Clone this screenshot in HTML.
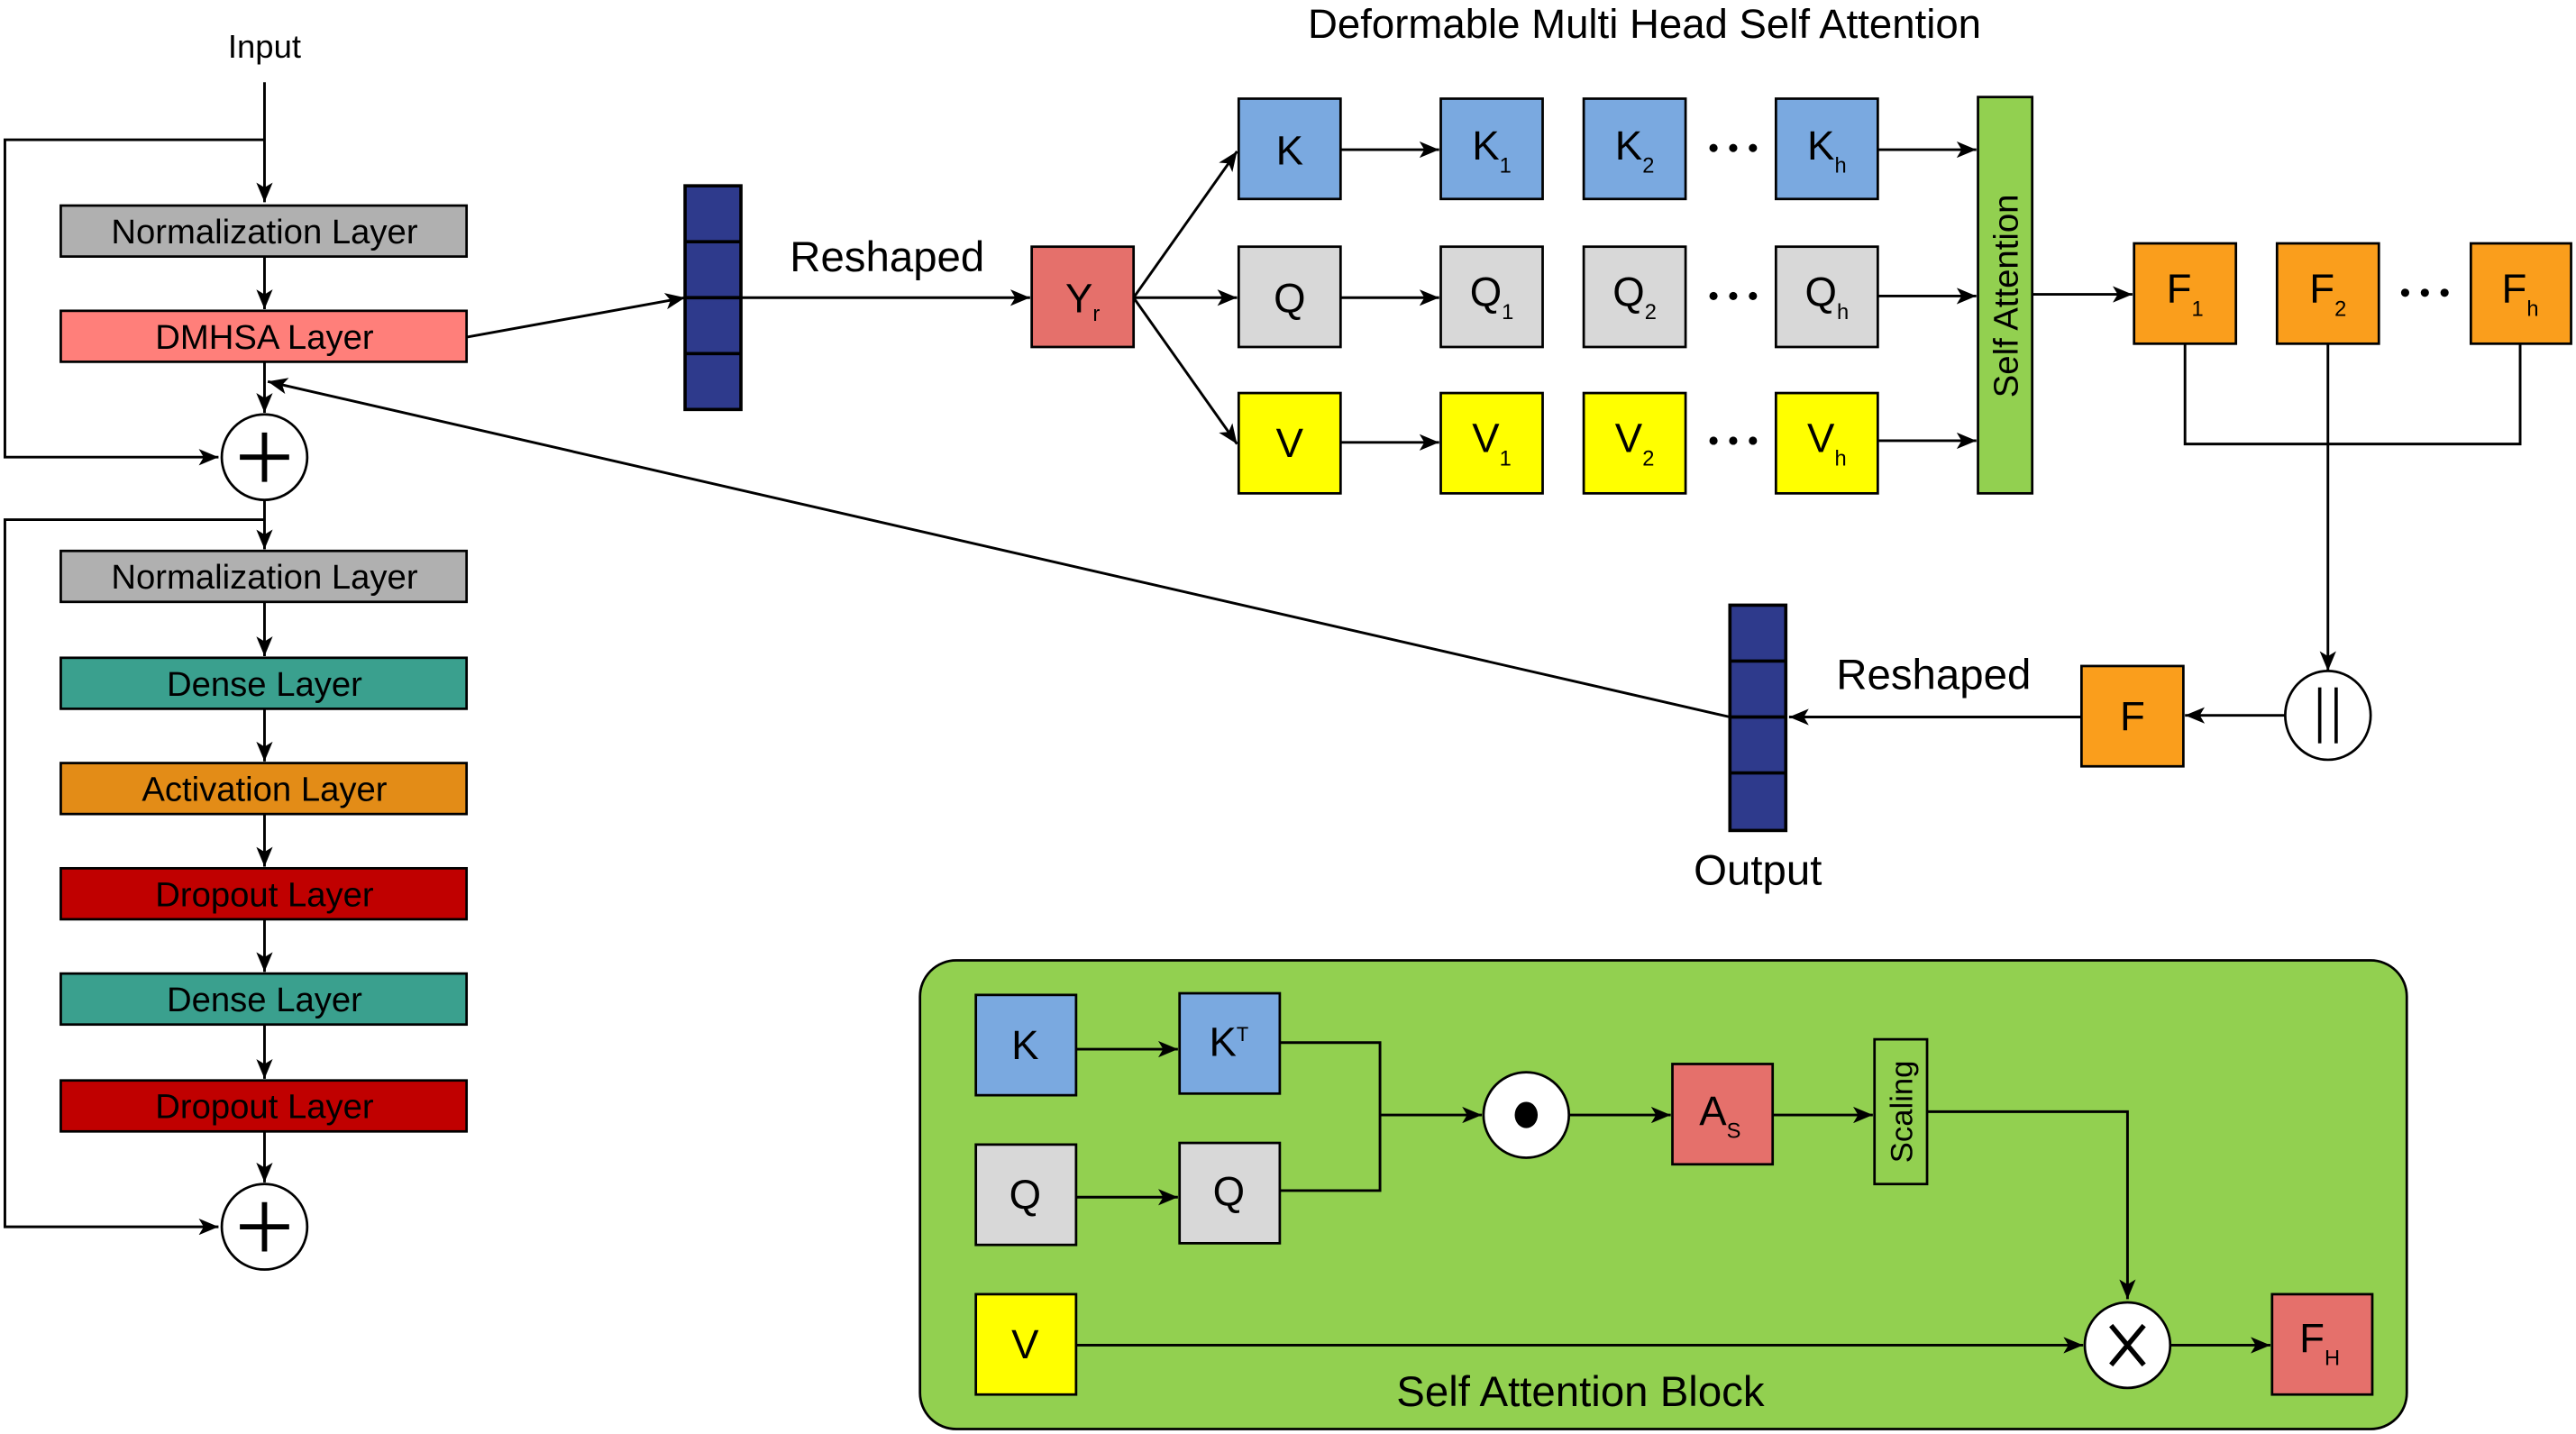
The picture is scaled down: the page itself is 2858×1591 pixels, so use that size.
<!DOCTYPE html>
<html><head><meta charset="utf-8"><style>
html,body{margin:0;padding:0;background:#fff;}
svg{display:block;}
text{font-family:"Liberation Sans",sans-serif;fill:#000;}
</style></head><body>
<svg width="2858" height="1591" viewBox="0 0 1568 872" preserveAspectRatio="none" xmlns="http://www.w3.org/2000/svg">
<defs>
<marker id="a" viewBox="0 0 12 10" refX="12" refY="5" markerWidth="12" markerHeight="10" markerUnits="userSpaceOnUse" orient="auto">
<path d="M0,0 L12,5 L0,10 L3,5 Z" fill="#000"/></marker>
</defs>
<g stroke="#000" stroke-width="1.6" fill="none">
<line x1="161" y1="50" x2="161" y2="123" marker-end="url(#a)"/>
<polyline points="161,85 3,85 3,278 133,278" marker-end="url(#a)"/>
<line x1="161" y1="156" x2="161" y2="188" marker-end="url(#a)"/>
<line x1="161" y1="220" x2="161" y2="251" marker-end="url(#a)"/>
<line x1="161" y1="304" x2="161" y2="334" marker-end="url(#a)"/>
<polyline points="161,316 3,316 3,746 133,746" marker-end="url(#a)"/>
<line x1="161" y1="366" x2="161" y2="399" marker-end="url(#a)"/>
<line x1="161" y1="431" x2="161" y2="463" marker-end="url(#a)"/>
<line x1="161" y1="495" x2="161" y2="527" marker-end="url(#a)"/>
<line x1="161" y1="559" x2="161" y2="591" marker-end="url(#a)"/>
<line x1="161" y1="623" x2="161" y2="656" marker-end="url(#a)"/>
<line x1="161" y1="688" x2="161" y2="719" marker-end="url(#a)"/>
<line x1="284" y1="205" x2="417" y2="181" marker-end="url(#a)"/>
<line x1="451" y1="181" x2="627" y2="181" marker-end="url(#a)"/>
<line x1="690" y1="181" x2="753" y2="92" marker-end="url(#a)"/>
<line x1="690" y1="181" x2="753" y2="181" marker-end="url(#a)"/>
<line x1="690" y1="181" x2="753" y2="270" marker-end="url(#a)"/>
<line x1="816" y1="91" x2="876" y2="91" marker-end="url(#a)"/>
<line x1="816" y1="181" x2="876" y2="181" marker-end="url(#a)"/>
<line x1="816" y1="269" x2="876" y2="269" marker-end="url(#a)"/>
<line x1="1143" y1="91" x2="1203" y2="91" marker-end="url(#a)"/>
<line x1="1143" y1="180" x2="1203" y2="180" marker-end="url(#a)"/>
<line x1="1143" y1="268" x2="1203" y2="268" marker-end="url(#a)"/>
<line x1="1237" y1="179" x2="1298" y2="179" marker-end="url(#a)"/>
<polyline points="1330,209 1330,270 1534,270 1534,209"/>
<line x1="1417" y1="209" x2="1417" y2="408" marker-end="url(#a)"/>
<line x1="1391" y1="435" x2="1330" y2="435" marker-end="url(#a)"/>
<line x1="1267" y1="436" x2="1089" y2="436" marker-end="url(#a)"/>
<line x1="1053" y1="436" x2="163" y2="232" marker-end="url(#a)"/>
</g>
<g stroke="#000" stroke-width="1.5">
<rect x="37" y="125" width="247" height="31" fill="#b0b0b0"/>
<rect x="37" y="189" width="247" height="31" fill="#ff7f7a"/>
<rect x="37" y="335" width="247" height="31" fill="#b0b0b0"/>
<rect x="37" y="400" width="247" height="31" fill="#3aa08e"/>
<rect x="37" y="464" width="247" height="31" fill="#e38c17"/>
<rect x="37" y="528" width="247" height="31" fill="#c00000"/>
<rect x="37" y="592" width="247" height="31" fill="#3aa08e"/>
<rect x="37" y="657" width="247" height="31" fill="#c00000"/>
<ellipse cx="161" cy="278" rx="26" ry="26" fill="#fff"/>
<ellipse cx="161" cy="746" rx="26" ry="26" fill="#fff"/>
</g>
<g stroke="#000" stroke-width="3.2">
<line x1="146" y1="278" x2="176" y2="278"/><line x1="161" y1="263" x2="161" y2="293"/>
<line x1="146" y1="746" x2="176" y2="746"/><line x1="161" y1="731" x2="161" y2="761"/>
</g>
<g font-size="21" text-anchor="middle">
<text x="161" y="35" font-size="20">Input</text>
<text x="161" y="148">Normalization Layer</text>
<text x="161" y="212">DMHSA Layer</text>
<text x="161" y="358">Normalization Layer</text>
<text x="161" y="423">Dense Layer</text>
<text x="161" y="487">Activation Layer</text>
<text x="161" y="551">Dropout Layer</text>
<text x="161" y="615">Dense Layer</text>
<text x="161" y="680">Dropout Layer</text>
</g>
<g stroke="#000" stroke-width="2" fill="#2e3a8c">
<rect x="417" y="113" width="34" height="136"/>
<line x1="417" y1="147" x2="451" y2="147"/><line x1="417" y1="181" x2="451" y2="181"/><line x1="417" y1="215" x2="451" y2="215"/>
<rect x="1053" y="368" width="34" height="137"/>
<line x1="1053" y1="402" x2="1087" y2="402"/><line x1="1053" y1="436" x2="1087" y2="436"/><line x1="1053" y1="470" x2="1087" y2="470"/>
</g>
<g font-size="26" text-anchor="middle">
<text x="540" y="165">Reshaped</text>
<text x="1177" y="419">Reshaped</text>
<text x="1070" y="538">Output</text>
<text x="1001" y="23" font-size="25">Deformable Multi Head Self Attention</text>
</g>
<g stroke="#000" stroke-width="1.5">
<rect x="628" y="150" width="62" height="61" fill="#e5706b"/>
<rect x="754" y="60" width="62" height="61" fill="#7aa9e0"/>
<rect x="877" y="60" width="62" height="61" fill="#7aa9e0"/>
<rect x="964" y="60" width="62" height="61" fill="#7aa9e0"/>
<rect x="1081" y="60" width="62" height="61" fill="#7aa9e0"/>
<rect x="754" y="150" width="62" height="61" fill="#d8d8d8"/>
<rect x="877" y="150" width="62" height="61" fill="#d8d8d8"/>
<rect x="964" y="150" width="62" height="61" fill="#d8d8d8"/>
<rect x="1081" y="150" width="62" height="61" fill="#d8d8d8"/>
<rect x="754" y="239" width="62" height="61" fill="#ffff00"/>
<rect x="877" y="239" width="62" height="61" fill="#ffff00"/>
<rect x="964" y="239" width="62" height="61" fill="#ffff00"/>
<rect x="1081" y="239" width="62" height="61" fill="#ffff00"/>
<rect x="1204" y="59" width="33" height="241" fill="#92d050"/>
<rect x="1299" y="148" width="62" height="61" fill="#fa9e1c"/>
<rect x="1386" y="148" width="62" height="61" fill="#fa9e1c"/>
<rect x="1504" y="148" width="61" height="61" fill="#fa9e1c"/>
<rect x="1267" y="405" width="62" height="61" fill="#fa9e1c"/>
<ellipse cx="1417" cy="435" rx="26" ry="27" fill="#fff"/>
</g>
<g stroke="#000" stroke-width="2"><line x1="1412" y1="418" x2="1412" y2="452"/><line x1="1422" y1="418" x2="1422" y2="452"/></g>
<g fill="#000">
<circle cx="1043" cy="90" r="2.5"/><circle cx="1055" cy="90" r="2.5"/><circle cx="1067" cy="90" r="2.5"/>
<circle cx="1043" cy="180" r="2.5"/><circle cx="1055" cy="180" r="2.5"/><circle cx="1067" cy="180" r="2.5"/>
<circle cx="1043" cy="268" r="2.5"/><circle cx="1055" cy="268" r="2.5"/><circle cx="1067" cy="268" r="2.5"/>
<circle cx="1464" cy="178" r="2.5"/><circle cx="1476" cy="178" r="2.5"/><circle cx="1488" cy="178" r="2.5"/>
</g>
<g font-size="25" text-anchor="middle">
<text x="659" y="190">Y<tspan font-size="13" dy="5">r</tspan></text>
<text x="785" y="100">K</text>
<text x="908" y="97">K<tspan font-size="13" dy="8">1</tspan></text>
<text x="995" y="97">K<tspan font-size="13" dy="8">2</tspan></text>
<text x="1112" y="97">K<tspan font-size="13" dy="8">h</tspan></text>
<text x="785" y="190">Q</text>
<text x="908" y="186">Q<tspan font-size="13" dy="8">1</tspan></text>
<text x="995" y="186">Q<tspan font-size="13" dy="8">2</tspan></text>
<text x="1112" y="186">Q<tspan font-size="13" dy="8">h</tspan></text>
<text x="785" y="278">V</text>
<text x="908" y="275">V<tspan font-size="13" dy="8">1</tspan></text>
<text x="995" y="275">V<tspan font-size="13" dy="8">2</tspan></text>
<text x="1112" y="275">V<tspan font-size="13" dy="8">h</tspan></text>
<text x="1330" y="184">F<tspan font-size="13" dy="8">1</tspan></text>
<text x="1417" y="184">F<tspan font-size="13" dy="8">2</tspan></text>
<text x="1534" y="184">F<tspan font-size="13" dy="8">h</tspan></text>
<text x="1298" y="444">F</text>
<text transform="translate(1228,180) rotate(-90)" font-size="21">Self Attention</text>
</g>
<rect x="560" y="584" width="905" height="285" rx="22" fill="#92d050" stroke="#000" stroke-width="1.5"/>
<g stroke="#000" stroke-width="1.6" fill="none">
<line x1="655" y1="638" x2="717" y2="638" marker-end="url(#a)"/>
<line x1="655" y1="728" x2="717" y2="728" marker-end="url(#a)"/>
<polyline points="779,634 840,634 840,724 779,724"/>
<line x1="840" y1="678" x2="902" y2="678" marker-end="url(#a)"/>
<line x1="955" y1="678" x2="1017" y2="678" marker-end="url(#a)"/>
<line x1="1079" y1="678" x2="1140" y2="678" marker-end="url(#a)"/>
<polyline points="1173,676 1295,676 1295,790" marker-end="url(#a)"/>
<line x1="655" y1="818" x2="1268" y2="818" marker-end="url(#a)"/>
<line x1="1321" y1="818" x2="1382" y2="818" marker-end="url(#a)"/>
</g>
<g stroke="#000" stroke-width="1.5">
<rect x="594" y="605" width="61" height="61" fill="#7aa9e0"/>
<rect x="718" y="604" width="61" height="61" fill="#7aa9e0"/>
<rect x="594" y="696" width="61" height="61" fill="#d8d8d8"/>
<rect x="718" y="695" width="61" height="61" fill="#d8d8d8"/>
<rect x="594" y="787" width="61" height="61" fill="#ffff00"/>
<rect x="1018" y="647" width="61" height="61" fill="#e5706b"/>
<rect x="1141" y="632" width="32" height="88" fill="none"/>
<rect x="1383" y="787" width="61" height="61" fill="#e5706b"/>
<ellipse cx="929" cy="678" rx="26" ry="26" fill="#fff"/>
<ellipse cx="1295" cy="818" rx="26" ry="26" fill="#fff"/>
</g>
<ellipse cx="929" cy="678" rx="7" ry="8" fill="#000"/>
<g stroke="#000" stroke-width="3"><line x1="1285" y1="806" x2="1305" y2="830"/><line x1="1305" y1="806" x2="1285" y2="830"/></g>
<g font-size="25" text-anchor="middle">
<text x="624" y="644">K</text>
<text x="748" y="642">K<tspan font-size="12" dy="-9">T</tspan></text>
<text x="624" y="735">Q</text>
<text x="748" y="733">Q</text>
<text x="624" y="826">V</text>
<text x="1047" y="684">A<tspan font-size="13" dy="8">S</tspan></text>
<text x="1412" y="822">F<tspan font-size="13" dy="8">H</tspan></text>
<text transform="translate(1164,676) rotate(-90)" font-size="19">Scaling</text>
<text x="962" y="855" font-size="26">Self Attention Block</text>
</g>
</svg>
</body></html>
